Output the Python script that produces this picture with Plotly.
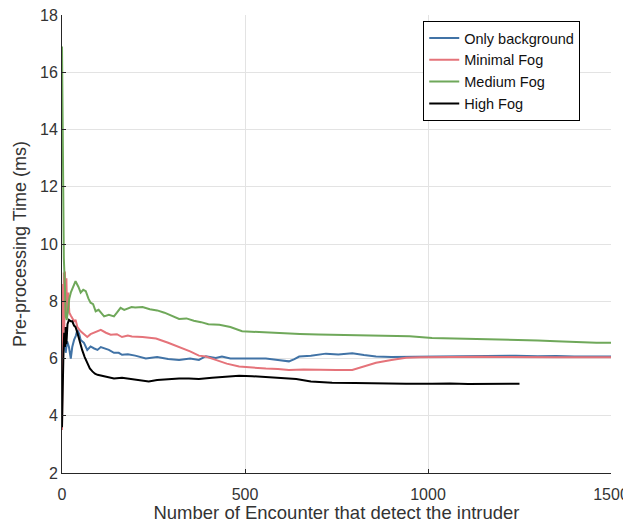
import plotly.graph_objects as go

# ---- data ----
bg_x = [0, 3, 6, 10, 14, 19, 24, 28, 33, 38, 42, 47, 51, 60, 69, 78, 88, 97, 106, 115, 128, 142, 155, 164,
        180, 200, 229, 260, 290, 320, 350, 374, 393, 420, 437, 460, 484, 520, 557, 590, 620, 635, 648, 680,
        721, 755, 793, 825, 858, 900, 950, 1011, 1060, 1110, 1160, 1200, 1240, 1300, 1350, 1400, 1450, 1500]
bg_y = [6.7, 6.2, 6.8, 6.2, 6.6, 6.4, 6.0, 6.4, 6.65, 6.8, 7.0, 6.85, 6.65, 6.55, 6.3, 6.42, 6.35, 6.3, 6.4,
        6.36, 6.3, 6.2, 6.2, 6.13, 6.15, 6.1, 6.0, 6.05, 5.98, 5.95, 6.0, 5.95, 6.08, 6.02, 6.07, 6.0, 6.0,
        6.02, 6.0, 5.95, 5.9, 5.98, 6.07, 6.1, 6.17, 6.14, 6.18, 6.12, 6.07, 6.05, 6.06, 6.05, 6.06, 6.07,
        6.08, 6.1, 6.1, 6.08, 6.09, 6.07, 6.08, 6.07]

min_x = [0, 1, 2, 3, 4, 5, 6, 8, 10, 12, 14, 17, 20, 24, 28, 33, 37, 42, 51, 60, 69, 78, 87, 97, 106, 120,
         133, 150, 164, 180, 191, 220, 257, 290, 320, 350, 374, 393, 420, 450, 484, 520, 557, 590, 620, 660,
         700, 750, 793, 820, 840, 858, 900, 940, 980, 1020, 1060, 1104, 1150, 1200, 1250, 1300, 1350, 1400,
         1450, 1500]
min_y = [3.5, 7.5, 6.2, 8.6, 6.5, 9.0, 7.0, 9.04, 7.8, 8.8, 7.5, 8.3, 7.6, 7.5, 7.4, 7.3, 7.35, 7.1, 6.95,
         6.85, 6.75, 6.85, 6.9, 6.95, 7.0, 6.9, 6.83, 6.85, 6.75, 6.8, 6.77, 6.75, 6.7, 6.55, 6.4, 6.25, 6.1,
         6.07, 5.95, 5.82, 5.72, 5.68, 5.65, 5.63, 5.6, 5.62, 5.6, 5.6, 5.6, 5.7, 5.78, 5.85, 5.95, 6.03,
         6.04, 6.05, 6.06, 6.07, 6.06, 6.05, 6.04, 6.05, 6.04, 6.04, 6.03, 6.04]

med_x = [0, 1, 2, 3, 5, 8, 10, 13, 16, 20, 24, 30, 37, 45, 51, 58, 65, 72, 78, 85, 92, 100, 106, 115, 128,
         142, 150, 160, 170, 180, 190, 200, 220, 240, 260, 280, 300, 320, 340, 360, 380, 400, 430, 460, 492,
         520, 560, 600, 650, 700, 738, 800, 874, 950, 1011, 1050, 1100, 1150, 1200, 1240, 1300, 1350, 1400,
         1421, 1460, 1500]
med_y = [16.9, 15.0, 13.2, 11.0, 9.5, 8.5, 7.47, 7.35, 7.8, 8.1, 8.3, 8.5, 8.7, 8.5, 8.3, 8.4, 8.35, 8.1, 7.95,
         7.9, 7.65, 7.7, 7.6, 7.47, 7.53, 7.47, 7.6, 7.77, 7.7, 7.75, 7.8, 7.78, 7.8, 7.72, 7.68, 7.6, 7.5,
         7.38, 7.4, 7.32, 7.27, 7.2, 7.18, 7.1, 6.95, 6.93, 6.9, 6.88, 6.86, 6.84, 6.83, 6.82, 6.8, 6.78,
         6.72, 6.71, 6.7, 6.68, 6.66, 6.65, 6.63, 6.6, 6.57, 6.55, 6.55, 6.55]

high_x = [0, 2, 4, 6, 8, 10, 12, 15, 19, 24, 28, 33, 37, 42, 50, 55, 62, 69, 76, 83, 90, 97, 106, 115, 128,
          142, 164, 185, 210, 237, 260, 290, 320, 347, 374, 410, 450, 484, 520, 560, 601, 640, 680, 738, 800,
          874, 940, 1011, 1060, 1110, 1160, 1200, 1250]
high_y = [3.6, 5.5, 6.2, 6.9, 6.4, 7.1, 6.5, 7.2, 7.35, 7.3, 7.3, 7.15, 7.1, 6.9, 6.5, 6.3, 6.05, 5.85, 5.65,
          5.55, 5.47, 5.43, 5.4, 5.38, 5.33, 5.3, 5.33, 5.3, 5.26, 5.2, 5.25, 5.28, 5.3, 5.3, 5.28, 5.33, 5.38,
          5.4, 5.38, 5.35, 5.33, 5.28, 5.2, 5.15, 5.14, 5.12, 5.12, 5.12, 5.13, 5.11, 5.12, 5.12, 5.12]

series_names = ["Only background", "Minimal Fog", "Medium Fog", "High Fog"]
x_ticks = [0, 500, 1000, 1500]
y_ticks = [2, 4, 6, 8, 10, 12, 14, 16, 18]

colors = ["#4173a6", "#e5737a", "#6fa85a", "#000000"]

fig = go.Figure()
for name, xs, ys, c in zip(series_names, [bg_x, min_x, med_x, high_x], [bg_y, min_y, med_y, high_y], colors):
    fig.add_trace(go.Scatter(x=xs, y=ys, mode="lines", name=name,
                             line=dict(color=c, width=2)))

# page body has an 8px margin: figure is sized/margined to compensate
fig.update_layout(
    width=623, height=515,
    margin=dict(l=54, r=20, t=7, b=50),
    paper_bgcolor="white", plot_bgcolor="white",
    font=dict(family="Liberation Sans, Arial, sans-serif", color="#333333", size=16),
    showlegend=True,
    legend=dict(x=0.658, y=0.987, xanchor="left", yanchor="top",
                bgcolor="white", bordercolor="#000000", borderwidth=1,
                font=dict(size=14.5, color="#111111"), tracegroupgap=0),
)
fig.update_xaxes(range=[0, 1500], tickvals=x_ticks, ticktext=[str(v) for v in x_ticks],
                 showgrid=True, gridcolor="#e3e3e3", gridwidth=1,
                 showline=True, linecolor="#262626", linewidth=1,
                 ticks="inside", ticklen=4, tickcolor="#262626", ticklabelstandoff=7,
                 ticklabeloverflow="allow",
                 zeroline=False, automargin=False,
                 title=dict(text="Number of Encounter that detect the intruder", font=dict(size=18.5), standoff=7))
fig.update_yaxes(range=[2, 18], tickvals=y_ticks, ticktext=[str(v) for v in y_ticks],
                 showgrid=True, gridcolor="#e3e3e3", gridwidth=1,
                 showline=True, linecolor="#262626", linewidth=1,
                 ticks="inside", ticklen=4, tickcolor="#262626",
                 ticklabeloverflow="allow",
                 zeroline=False, automargin=False,
                 title=dict(text="Pre-processing Time (ms)", font=dict(size=18), standoff=8))

fig.write_html("out.html")
